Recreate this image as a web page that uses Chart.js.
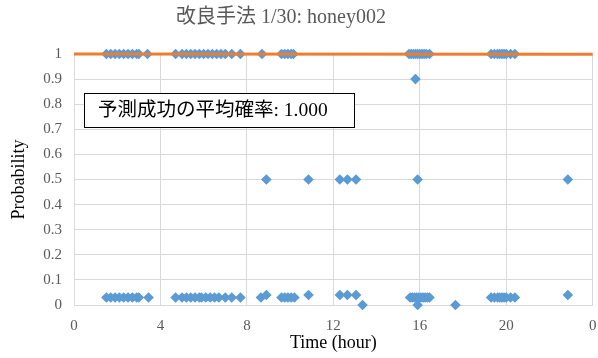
<!DOCTYPE html>
<html>
<head>
<meta charset="utf-8">
<script src="https://cdn.jsdelivr.net/npm/chart.js@4/dist/chart.umd.min.js"></script>
<style>
  html, body { margin: 0; padding: 0; background: #fff; }
  #wrap { width: 598px; height: 358px; }
</style>
</head>
<body>
<div id="wrap"><canvas id="c" width="598" height="358"></canvas></div>
<script>
// Observation times (hour of day) grouped by predicted probability
const hoursAtOne = [1.5, 1.7, 1.9, 2.1, 2.3, 2.5, 2.7, 2.9, 3.0, 3.4,
  4.7, 5.0, 5.2, 5.4, 5.6, 5.8, 6.0, 6.2, 6.4, 6.6, 6.8, 7.0, 7.3, 7.7,
  8.7, 9.6, 9.75, 9.9, 10.05, 10.15,
  15.5, 15.6, 15.7, 15.8, 15.9, 16.0, 16.1, 16.2, 16.3, 16.45,
  19.3, 19.45, 19.6, 19.7, 19.8, 19.9, 20.0, 20.2, 20.4];
const hoursAt090 = [15.8];
const hoursAtHalf = [8.9, 10.85, 12.3, 12.65, 13.05, 15.9, 22.85];
const hoursAt004 = [8.9, 10.85, 12.3, 12.65, 13.05, 22.85];
const hoursAt003 = [1.5, 1.7, 1.9, 2.1, 2.3, 2.5, 2.7, 2.9, 3.0, 3.45,
  4.7, 5.0, 5.2, 5.4, 5.6, 5.8, 5.9, 6.1, 6.3, 6.5, 6.7, 7.0, 7.3, 7.7,
  8.65, 9.6, 9.75, 9.9, 10.05, 10.2,
  15.55, 15.65, 15.75, 15.85, 15.95, 16.05, 16.15, 16.25, 16.35, 16.45,
  19.3, 19.45, 19.6, 19.7, 19.8, 19.9, 20.0, 20.2, 20.4];
const hoursAtZero = [13.35, 15.9, 17.65];

// Linear trend across the day
const trendHours = [0, 24];
const trendValues = [1.0, 0.999];

const xTicks = [0, 4, 8, 12, 16, 20, 24];
const yTicks = [0, 0.1, 0.2, 0.3, 0.4, 0.5, 0.6, 0.7, 0.8, 0.9, 1];

const chartTitle = '改良手法 1/30: honey002';
const noteText = '予測成功の平均確率: 1.000';
const xTitle = 'Time (hour)';
const yTitle = 'Probability';

const groups = [
  [hoursAtOne, 1.0], [hoursAt090, 0.9], [hoursAtHalf, 0.5],
  [hoursAt004, 0.04], [hoursAt003, 0.03], [hoursAtZero, 0.0]
];
const points = [];
groups.forEach(([hours, p]) => hours.forEach(h => points.push({ x: h, y: p })));

const serif = '"Liberation Serif", "Times New Roman", "Noto Sans CJK JP", serif';
const mixed = '"Liberation Serif", "Noto Sans CJK JP", serif';

const overlay = {
  id: 'overlay',
  afterDraw(chart) {
    const ctx = chart.ctx;
    ctx.save();
    // title
    ctx.fillStyle = '#595959';
    ctx.font = '20px ' + mixed;
    ctx.textAlign = 'center';
    ctx.textBaseline = 'middle';
    ctx.fillText(chartTitle, 281, 18);
    // note box
    ctx.fillStyle = '#ffffff';
    ctx.fillRect(84.5, 93.5, 270, 34);
    ctx.strokeStyle = '#000000';
    ctx.lineWidth = 1;
    ctx.strokeRect(84.5, 93.5, 270, 34);
    ctx.fillStyle = '#000000';
    ctx.font = '19.5px ' + mixed;
    ctx.textAlign = 'left';
    ctx.fillText(noteText, 98, 111);
    ctx.restore();
  }
};

new Chart(document.getElementById('c'), {
  data: {
    datasets: [
      {
        type: 'scatter',
        data: points,
        pointStyle: 'rectRot',
        pointRadius: 5.3,
        pointBackgroundColor: '#5B9BD5',
        pointBorderColor: '#5B9BD5',
        pointBorderWidth: 0,
        clip: false,
        order: 2
      },
      {
        type: 'line',
        data: trendHours.map((h, i) => ({ x: h, y: trendValues[i] })),
        borderColor: '#ED7D31',
        borderWidth: 3,
        pointRadius: 0,
        fill: false,
        clip: false,
        order: 1
      }
    ]
  },
  options: {
    responsive: false,
    animation: false,
    layout: { padding: { top: 54, right: 5, left: 0, bottom: 0 } },
    plugins: { legend: { display: false }, tooltip: { enabled: false }, title: { display: false } },
    scales: {
      x: {
        type: 'linear',
        min: 0, max: 24,
        afterBuildTicks: s => { s.ticks = xTicks.map(v => ({ value: v })); },
        afterFit: s => { s.height = 53; s.paddingLeft = 0; s.paddingRight = 0; },
        grid: { color: '#d9d9d9', drawTicks: false },
        border: { color: '#d9d9d9' },
        ticks: {
          padding: 12,
          color: '#595959',
          font: { family: serif, size: 15 },
          callback: v => String(v % 24),
          maxRotation: 0
        },
        title: {
          display: true, text: xTitle, color: '#000000',
          font: { family: serif, size: 18 }, padding: { top: 5 }
        }
      },
      y: {
        type: 'linear',
        min: 0, max: 1,
        afterBuildTicks: s => { s.ticks = yTicks.map(v => ({ value: v })); },
        afterFit: s => { s.width = 74; s.paddingTop = 0; s.paddingBottom = 0; },
        grid: { color: '#d9d9d9', drawTicks: false },
        border: { color: '#d9d9d9' },
        ticks: {
          padding: 12,
          color: '#595959',
          font: { family: serif, size: 15 },
          callback: v => String(Math.round(v * 10) / 10)
        },
        title: {
          display: true, text: yTitle, color: '#000000',
          font: { family: serif, size: 18 }, padding: { top: 8, bottom: 0 }
        }
      }
    }
  },
  plugins: [overlay]
});
</script>
</body>
</html>
